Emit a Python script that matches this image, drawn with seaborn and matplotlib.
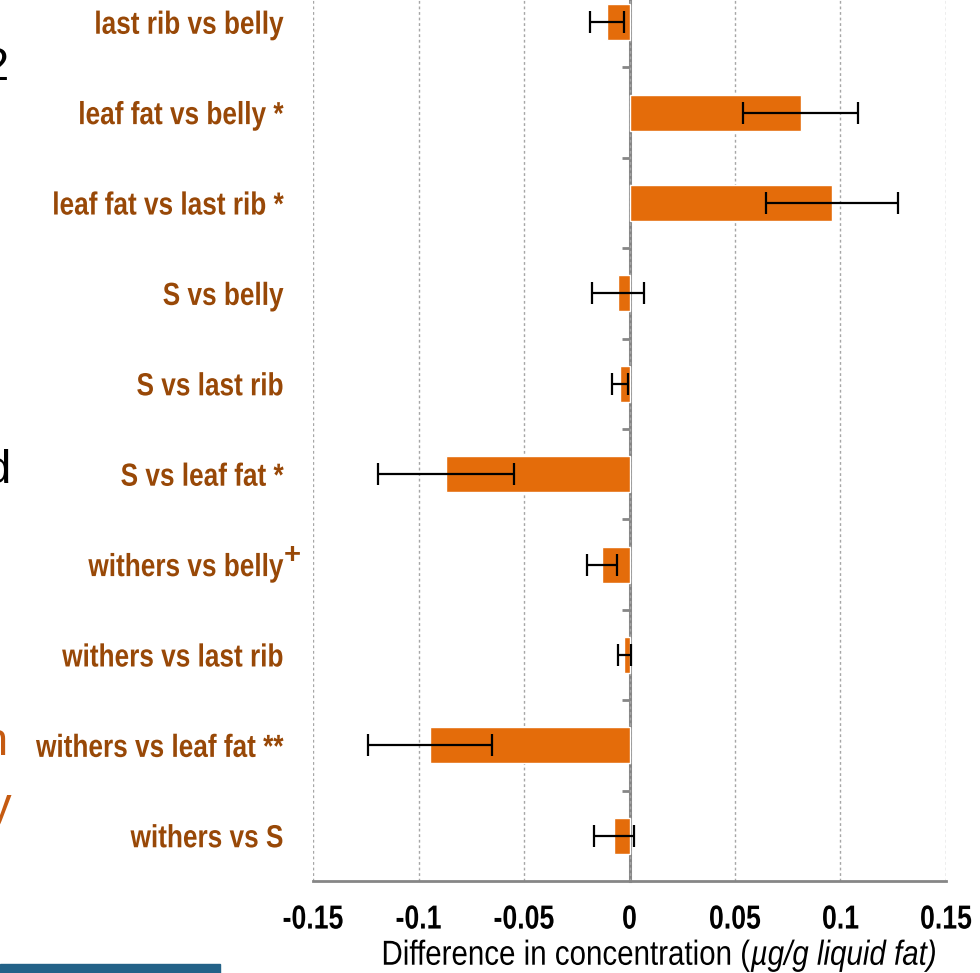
import matplotlib
matplotlib.use("Agg")
import matplotlib.pyplot as plt
from matplotlib.patheffects import AbstractPathEffect
from matplotlib.transforms import Affine2D
import seaborn as sns
import pandas as pd
import numpy as np

# Pairwise site comparisons: mean difference and its error
comparisons = [
    "last rib vs belly",
    "leaf fat vs belly *",
    "leaf fat vs last rib *",
    "S vs belly",
    "S vs last rib",
    "S vs leaf fat *",
    "withers vs belly",
    "withers vs last rib",
    "withers vs leaf fat **",
    "withers vs S",
]
differences = [-0.0108, 0.0812, 0.0960, -0.0055, -0.0044, -0.0868, -0.0132, -0.0025, -0.0944, -0.0073]
errors = [0.0080, 0.0273, 0.0312, 0.0123, 0.0038, 0.0322, 0.0071, 0.0031, 0.0294, 0.0094]
# trend marker (+) attached to a comparison label
trend_comparison = "withers vs belly"
x_ticks = [-0.15, -0.1, -0.05, 0, 0.05, 0.1, 0.15]
x_tick_labels = ["-0.15", "-0.1", "-0.05", "0", "0.05", "0.1", "0.15"]

sns.set_theme(style="white")

FONT = "Liberation Sans"
plt.rcParams["font.family"] = [FONT, "DejaVu Sans"]


class Condensed(AbstractPathEffect):
    """Squeeze glyphs horizontally to mimic a narrow typeface."""

    def __init__(self, sx=0.82, anchor="right"):
        super().__init__()
        self.sx = sx
        self.anchor = anchor

    def draw_path(self, renderer, gc, tpath, affine, rgbFace=None):
        ext = tpath.get_extents()
        if self.anchor == "right":
            x0 = ext.x1
        elif self.anchor == "center":
            x0 = 0.5 * (ext.x0 + ext.x1)
        else:
            x0 = ext.x0
        squeeze = Affine2D().translate(-x0, 0).scale(self.sx, 1).translate(x0, 0)
        renderer.draw_path(gc, tpath, squeeze + affine, rgbFace)


BAR = "#E46C0A"
LABEL = "#984807"
AXIS_GRAY = "#868686"

df = pd.DataFrame({"comparison": comparisons, "difference": differences, "error": errors})

fig = plt.figure(figsize=(9.8, 9.73), dpi=100)
ax = fig.add_axes([0.3194, 0.0946, 0.6459, 0.929])

sns.barplot(data=df, y="comparison", x="difference", orient="h", color=BAR,
            saturation=1, width=0.4, errorbar=None, ax=ax)
ax.errorbar(df["difference"], np.arange(len(df)), xerr=df["error"], fmt="none",
            ecolor="black", elinewidth=1.6, capsize=8, capthick=1.6, zorder=4)

ax.set_xlim(-0.15, 0.15)
ax.set_ylim(len(df) - 0.5, -0.5)
ax.set_xticks(x_ticks)
ax.set_xticklabels(x_tick_labels, fontsize=24, fontweight="bold", color="black")
for lbl in ax.get_xticklabels():
    lbl.set_path_effects([Condensed(0.8, "center")])
ax.set_ylabel("")
ax.set_xlabel("")

for lbl in ax.get_yticklabels():
    lbl.set_fontsize(23)
    lbl.set_fontweight("bold")
    lbl.set_color(LABEL)
    lbl.set_path_effects([Condensed(0.82, "right")])
ax.tick_params(axis="y", length=0, pad=21)
ax.tick_params(axis="x", length=8, width=1.5, color=AXIS_GRAY, direction="out", pad=9)

# raised "+" after the trend comparison label
ax.annotate("+", xy=(0, comparisons.index(trend_comparison)),
            xycoords=ax.get_yaxis_transform(), xytext=(-21, 10),
            textcoords="offset pixels", ha="center", va="center",
            fontsize=21, fontweight="bold", color=LABEL, annotation_clip=False)

# axis title: upright text followed by the italic unit
fig.text(0.766, 0.0085, "Difference in concentration (", fontsize=25, ha="right",
         va="baseline", color="black", path_effects=[Condensed(0.85, "right")])
fig.text(0.766, 0.0085, "\u00b5g/g liquid fat)", fontsize=25, ha="left", va="baseline",
         style="italic", color="black", path_effects=[Condensed(0.85, "left")])

ax.grid(axis="x", linestyle=(0, (2, 2)), color="#A6A6A6", linewidth=1)
ax.grid(axis="y", visible=False)
for side in ("top", "right", "left"):
    ax.spines[side].set_visible(False)
ax.spines["bottom"].set_color(AXIS_GRAY)
ax.spines["bottom"].set_linewidth(2)

# zero line carrying the category separator ticks
zero_axis = ax.secondary_yaxis(0.5)
zero_axis.set_alignment("left")
zero_axis.set_yticks(np.arange(len(df) - 1) + 0.5)
zero_axis.set_yticklabels([])
zero_axis.tick_params(axis="y", length=6, width=2, color=AXIS_GRAY, direction="out")
zero_axis.spines["left"].set_visible(True)
zero_axis.spines["left"].set_color(AXIS_GRAY)
zero_axis.spines["left"].set_linewidth(2.2)
for side in ("right", "top", "bottom"):
    zero_axis.spines[side].set_visible(False)

# slide fragments at the left edge
fig.text(0.009, 0.93, "2", fontsize=34, ha="right", va="center", color="black")
fig.text(0.011, 0.516, "d", fontsize=34, ha="right", va="center", color="black")
fig.text(0.008, 0.236, "n", fontsize=34, ha="right", va="center", color="#C55A11")
fig.text(0.012, 0.17, "y", fontsize=34, ha="right", va="center", color="#C55A11")
fig.patches.append(plt.Rectangle((0, 0), 0.2245, 0.0095, transform=fig.transFigure,
                                 color="#236288", zorder=5))

fig.savefig("out.png", dpi=100)
